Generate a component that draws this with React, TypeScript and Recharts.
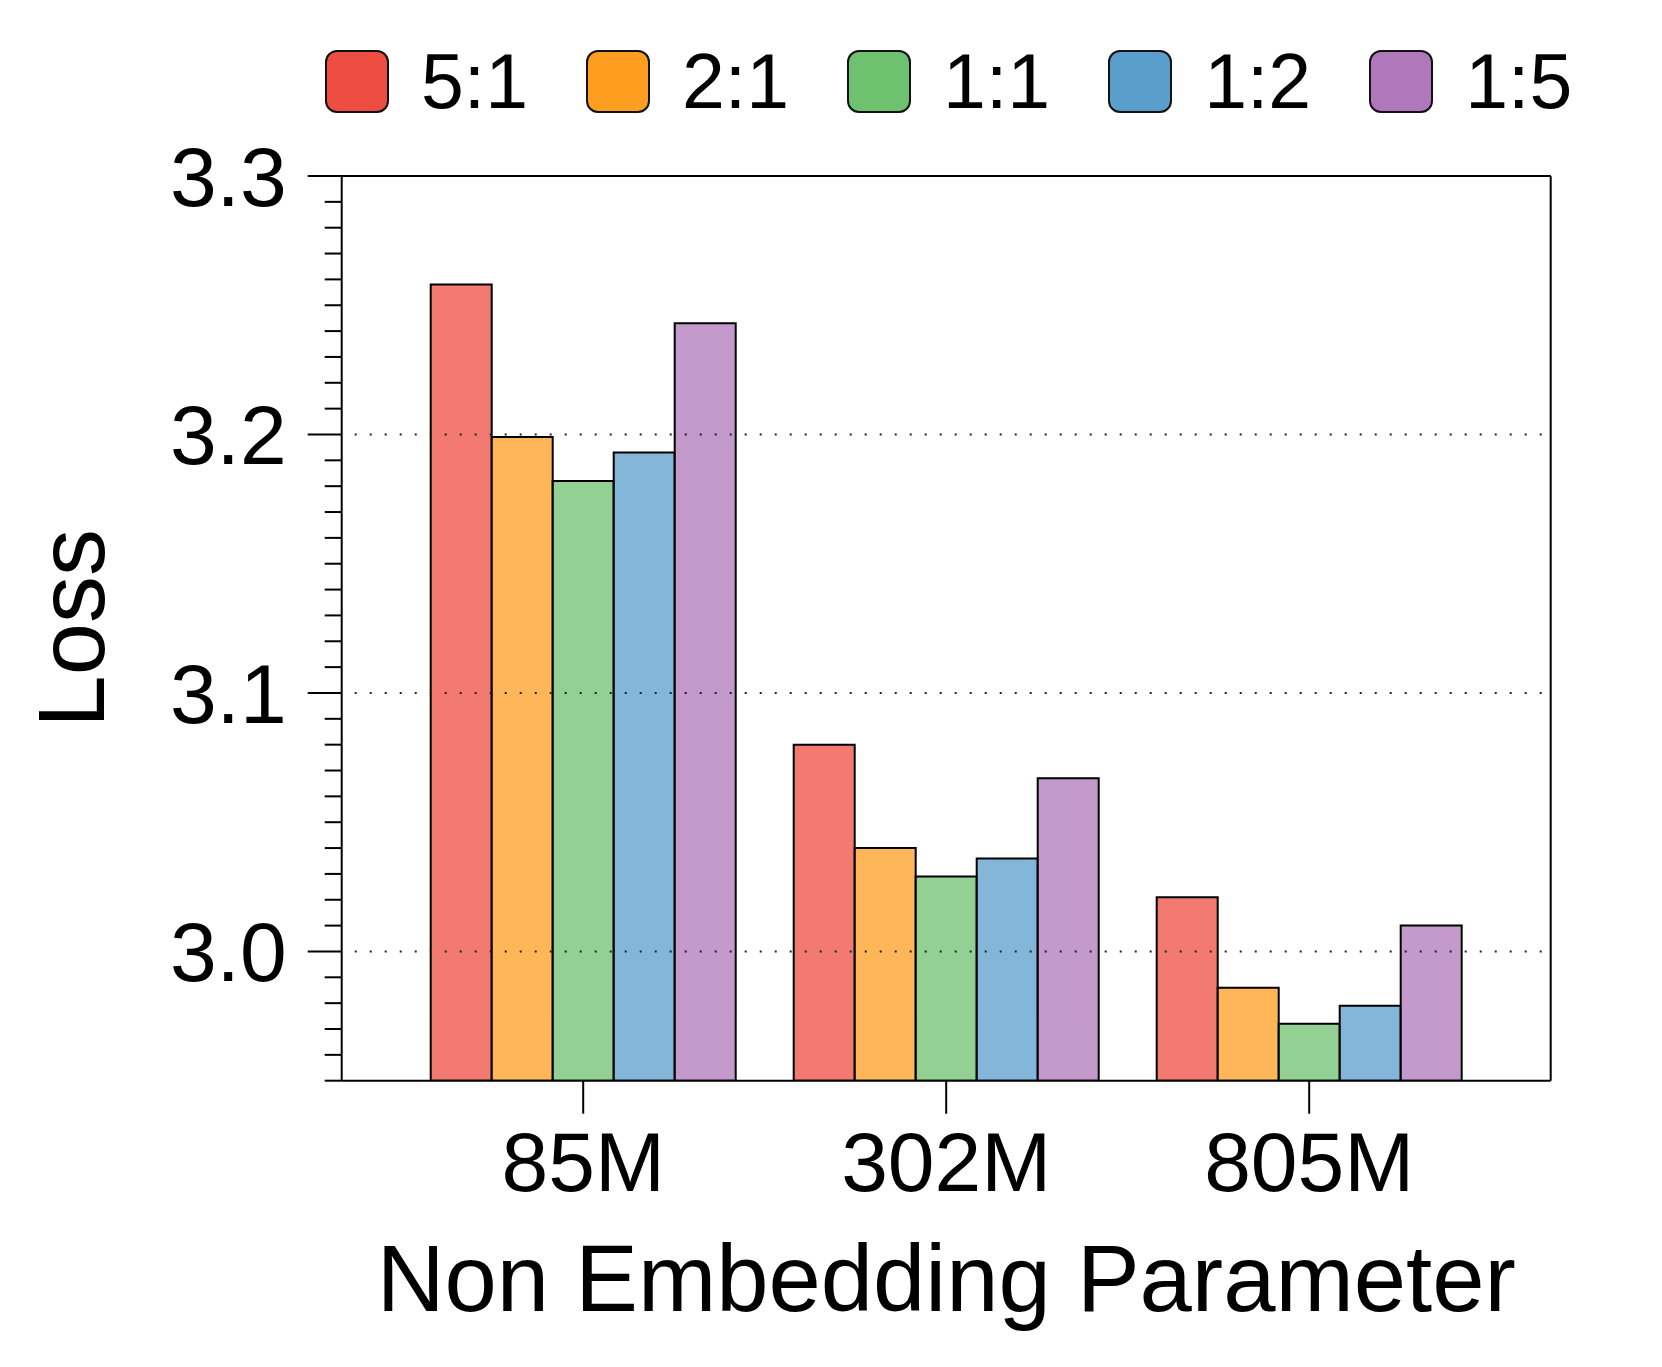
import React from "react";
import {
  BarChart,
  Bar,
  XAxis,
  YAxis,
  Legend,
  ReferenceLine,
} from "recharts";

const categories = ["85M", "302M", "805M"];
const ratioNames = ["5:1", "2:1", "1:1", "1:2", "1:5"];
const ratioKeys = ["r51", "r21", "r11", "r12", "r15"];

const loss51 = [3.258, 3.08, 3.021];
const loss21 = [3.199, 3.04, 2.986];
const loss11 = [3.182, 3.029, 2.972];
const loss12 = [3.193, 3.036, 2.979];
const loss15 = [3.243, 3.067, 3.01];

const colors = ["#EE4D42", "#FE9E21", "#6DC16F", "#5A9ECC", "#B077BB"];

const majorTicks = [3.0, 3.1, 3.2, 3.3];
const yTicks = [
  2.95, 2.96, 2.97, 2.98, 2.99, 3.0, 3.01, 3.02, 3.03, 3.04, 3.05, 3.06, 3.07,
  3.08, 3.09, 3.1, 3.11, 3.12, 3.13, 3.14, 3.15, 3.16, 3.17, 3.18, 3.19, 3.2,
  3.21, 3.22, 3.23, 3.24, 3.25, 3.26, 3.27, 3.28, 3.29, 3.3,
];
const gridValues = [3.0, 3.1, 3.2];
const yDomain = [2.95, 3.3];

const series = [loss51, loss21, loss11, loss12, loss15];
const data = categories.map((name, i) => {
  const row: Record<string, any> = { name };
  ratioKeys.forEach((k, j) => {
    row[k] = series[j][i];
  });
  return row;
});

const FONT = "'Liberation Sans', Arial, Helvetica, sans-serif";

function YTick({ x, y, payload }: any) {
  const v = payload.value;
  const major = majorTicks.some((m) => Math.abs(m - v) < 1e-6);
  const axisX = x + 55;
  return (
    <g>
      <line
        x1={axisX - (major ? 34 : 17)}
        x2={axisX}
        y1={y}
        y2={y}
        stroke="#000"
        strokeWidth={2}
      />
      {major && (
        <text
          x={x}
          y={y}
          dy="0.355em"
          textAnchor="end"
          fontSize={84}
          fill="#000"
        >
          {v.toFixed(1)}
        </text>
      )}
    </g>
  );
}

function LegendBoxes() {
  return (
    <div
      style={{
        height: 176,
        display: "flex",
        alignItems: "flex-start",
        paddingLeft: 325,
        boxSizing: "border-box",
      }}
    >
      {ratioNames.map((name, i) => (
        <div
          key={name}
          style={{
            display: "flex",
            alignItems: "center",
            marginTop: 50,
            marginRight: 58,
          }}
        >
          <div
            style={{
              width: 60,
              height: 59,
              background: colors[i],
              border: "2px solid #111",
              borderRadius: 12,
            }}
          />
          <span
            style={{
              marginLeft: 32,
              fontSize: 77,
              color: "#000",
              lineHeight: "63px",
            }}
          >
            {name}
          </span>
        </div>
      ))}
    </div>
  );
}

export default function App() {
  return (
    <div
      style={{
        position: "absolute",
        left: 0,
        top: 0,
        width: 1662,
        height: 1367,
        background: "#fff",
        fontFamily: FONT,
      }}
    >
      <BarChart
        width={1662}
        height={1367}
        data={data}
        margin={{ top: 0, right: 110.3, bottom: 136.3, left: 20 }}
        barGap={0}
        barSize={61}
      >
        <Legend
          verticalAlign="top"
          content={<LegendBoxes />}
          wrapperStyle={{ left: 0, top: 0, width: 1662, height: 176 }}
        />
        <XAxis
          dataKey="name"
          padding={{ left: 60, right: 60 }}
          height={150}
          interval={0}
          tickSize={33}
          tickMargin={18}
          axisLine={{ stroke: "#000", strokeWidth: 2 }}
          tickLine={{ stroke: "#000", strokeWidth: 2 }}
          tick={{ fontSize: 84, fill: "#000" }}
          label={{
            value: "Non Embedding Parameter",
            position: "bottom",
            offset: 14,
            style: { fontSize: 94, fill: "#000" },
          }}
        />
        <YAxis
          domain={yDomain}
          ticks={yTicks}
          interval={0}
          allowDataOverflow
          width={321.7}
          tickSize={34}
          tickMargin={21}
          tickLine={false}
          axisLine={{ stroke: "#000", strokeWidth: 2 }}
          tick={<YTick />}
          label={{
            value: "Loss",
            angle: -90,
            position: "insideLeft",
            offset: 51,
            style: { textAnchor: "middle", fontSize: 94, fill: "#000" },
          }}
        />
        <YAxis
          yAxisId="right"
          orientation="right"
          domain={yDomain}
          allowDataOverflow
          width={1}
          tick={false}
          tickLine={false}
          axisLine={{ stroke: "#000", strokeWidth: 2 }}
        />
        {gridValues.map((v) => (
          <ReferenceLine
            key={v}
            y={v}
            stroke="#222"
            strokeWidth={2}
            strokeDasharray="2 13"
            strokeDashoffset={2}
          />
        ))}
        <ReferenceLine y={3.3} stroke="#000" strokeWidth={2} />
        <ReferenceLine y={3.3} yAxisId="right" stroke="#000" strokeWidth={2} />
        {ratioKeys.map((k, i) => (
          <Bar
            key={k}
            dataKey={k}
            name={ratioNames[i]}
            fill={colors[i]}
            fillOpacity={0.75}
            stroke="#000"
            strokeWidth={2}
            isAnimationActive={false}
          />
        ))}
      </BarChart>
    </div>
  );
}
